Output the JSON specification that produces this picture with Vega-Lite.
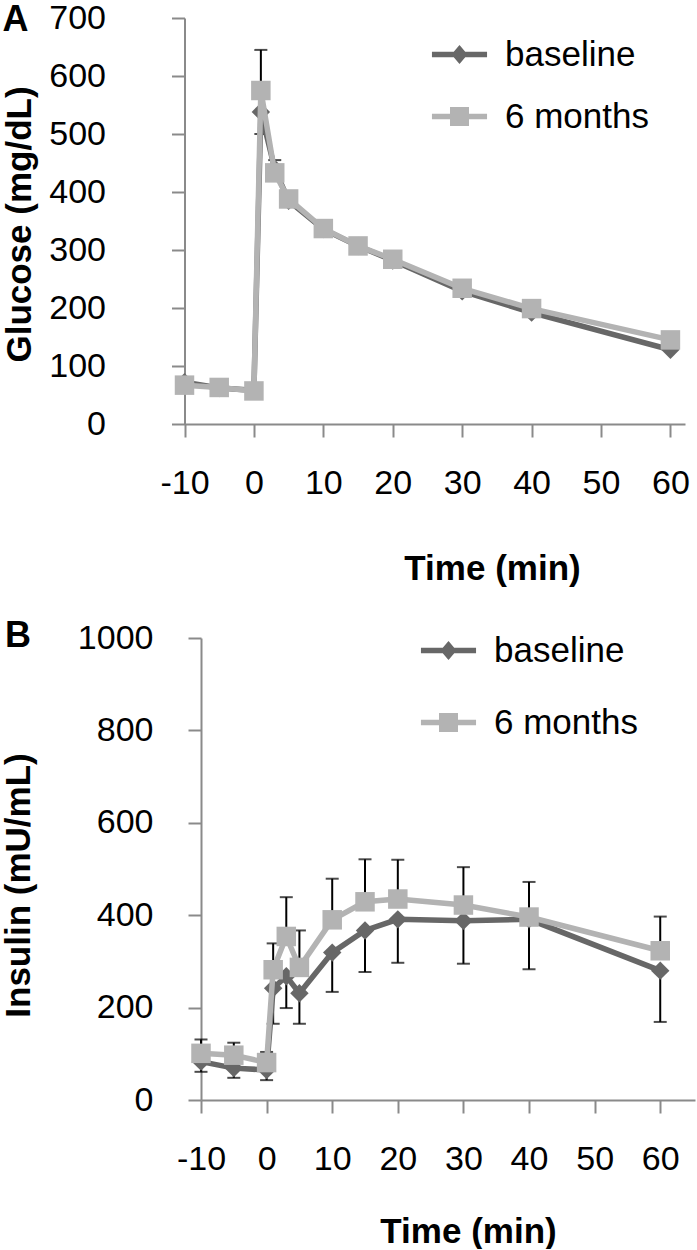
{
  "$schema": "https://vega.github.io/schema/vega-lite/v6.json",
  "background": "white",
  "padding": {"left": 0, "top": 1, "right": 0, "bottom": 0},
  "config": {
    "view": {"stroke": null},
    "font": "Liberation Sans",
    "axis": {
      "domainColor": "#8a8a8a", "domainWidth": 2, "tickColor": "#8a8a8a", "tickWidth": 2, "tickSize": 13,
      "grid": false, "labelFont": "Liberation Sans", "labelFontSize": 34, "labelColor": "black",
      "titleFont": "Liberation Sans", "titleFontSize": 35, "titleFontWeight": "bold", "titleColor": "black",
      "labelFlush": false, "labelOverlap": false, "labelBound": false, "labelExpr": "'' + datum.value"
    },
    "axisX": {"labelPadding": 29, "titleBaseline": "middle"},
    "axisY": {"labelPadding": 35, "titleBaseline": "middle"},
    "legend": {"labelFont": "Liberation Sans", "labelFontSize": 35, "labelColor": "black", "labelLimit": 0, "symbolSize": 361, "symbolStrokeWidth": 0, "labelOffset": 28, "padding": 0, "orient": "none", "title": null}
  },
  "datasets": {
    "glucose": [
      {"time": -10, "group": "baseline", "value": 72, "lo": null, "hi": null},
      {"time": -5, "group": "baseline", "value": 62, "lo": null, "hi": null},
      {"time": 0, "group": "baseline", "value": 58, "lo": null, "hi": null},
      {"time": 1, "group": "baseline", "value": 538, "lo": 500, "hi": 538},
      {"time": 3, "group": "baseline", "value": 440, "lo": null, "hi": null},
      {"time": 5, "group": "baseline", "value": 385, "lo": null, "hi": null},
      {"time": 10, "group": "baseline", "value": 336, "lo": null, "hi": null},
      {"time": 15, "group": "baseline", "value": 307, "lo": null, "hi": null},
      {"time": 20, "group": "baseline", "value": 282, "lo": null, "hi": null},
      {"time": 30, "group": "baseline", "value": 229, "lo": null, "hi": null},
      {"time": 40, "group": "baseline", "value": 192, "lo": null, "hi": null},
      {"time": 60, "group": "baseline", "value": 128, "lo": null, "hi": null},
      {"time": -10, "group": "6 months", "value": 67, "lo": null, "hi": null},
      {"time": -5, "group": "6 months", "value": 63, "lo": null, "hi": null},
      {"time": 0, "group": "6 months", "value": 57, "lo": null, "hi": null},
      {"time": 1, "group": "6 months", "value": 575, "lo": 575, "hi": 645},
      {"time": 3, "group": "6 months", "value": 433, "lo": 433, "hi": 455},
      {"time": 5, "group": "6 months", "value": 388, "lo": null, "hi": null},
      {"time": 10, "group": "6 months", "value": 337, "lo": null, "hi": null},
      {"time": 15, "group": "6 months", "value": 307, "lo": null, "hi": null},
      {"time": 20, "group": "6 months", "value": 284, "lo": null, "hi": null},
      {"time": 30, "group": "6 months", "value": 234, "lo": null, "hi": null},
      {"time": 40, "group": "6 months", "value": 199, "lo": null, "hi": null},
      {"time": 60, "group": "6 months", "value": 145, "lo": null, "hi": null}
    ],
    "insulin": [
      {"time": -10, "group": "baseline", "value": 83, "lo": 61, "hi": 83},
      {"time": -5, "group": "baseline", "value": 69, "lo": 48, "hi": 69},
      {"time": 0, "group": "baseline", "value": 65, "lo": 43, "hi": 65},
      {"time": 1, "group": "baseline", "value": 242, "lo": 165, "hi": 242},
      {"time": 3, "group": "baseline", "value": 268, "lo": 199, "hi": 268},
      {"time": 5, "group": "baseline", "value": 231, "lo": 165, "hi": 231},
      {"time": 10, "group": "baseline", "value": 319, "lo": 234, "hi": 319},
      {"time": 15, "group": "baseline", "value": 367, "lo": 277, "hi": 367},
      {"time": 20, "group": "baseline", "value": 391, "lo": 297, "hi": 391},
      {"time": 30, "group": "baseline", "value": 388, "lo": 295, "hi": 388},
      {"time": 40, "group": "baseline", "value": 391, "lo": 283, "hi": 391},
      {"time": 60, "group": "baseline", "value": 280, "lo": 169, "hi": 280},
      {"time": -10, "group": "6 months", "value": 101, "lo": 101, "hi": 131},
      {"time": -5, "group": "6 months", "value": 97, "lo": 97, "hi": 124},
      {"time": 0, "group": "6 months", "value": 81, "lo": 81, "hi": 104},
      {"time": 1, "group": "6 months", "value": 282, "lo": 282, "hi": 339},
      {"time": 3, "group": "6 months", "value": 354, "lo": 354, "hi": 439},
      {"time": 5, "group": "6 months", "value": 287, "lo": 287, "hi": 367},
      {"time": 10, "group": "6 months", "value": 390, "lo": 390, "hi": 479},
      {"time": 15, "group": "6 months", "value": 429, "lo": 429, "hi": 521},
      {"time": 20, "group": "6 months", "value": 435, "lo": 435, "hi": 520},
      {"time": 30, "group": "6 months", "value": 422, "lo": 422, "hi": 504},
      {"time": 40, "group": "6 months", "value": 396, "lo": 396, "hi": 472},
      {"time": 60, "group": "6 months", "value": 323, "lo": 323, "hi": 397}
    ]
  },
  "columns": 1,
  "align": "none",
  "spacing": 32,
  "resolve": {"scale": {"color": "independent", "shape": "independent"}, "legend": {"color": "independent", "shape": "independent"}},
  "concat": [
    {
      "width": 484, "height": 406,
      "data": {"name": "glucose"},
      "title": {"text": "A", "anchor": "start", "frame": "bounds", "fontSize": 36, "fontWeight": "bold", "font": "Liberation Sans", "color": "black", "baseline": "alphabetic", "offset": 0, "dy": 66, "dx": 0},
      "encoding": {
        "x": {"field": "time", "type": "quantitative", "title": "Time (min)", "scale": {"domain": [-10, 62.1], "range": [-16.5, 484], "nice": false, "zero": false},
              "axis": {"values": [-10, 0, 10, 20, 30, 40, 50, 60], "titleX": 291, "titleY": 144}},
        "y": {"field": "value", "type": "quantitative", "title": "Glucose (mg/dL)", "scale": {"domain": [0, 700], "nice": false},
              "axis": {"values": [0, 100, 200, 300, 400, 500, 600, 700], "offset": 16.5, "labelPadding": 66, "titleX": -165, "titleY": 206}}
      },
      "layer": [
        {"transform": [{"filter": "datum.hi != null"}],
         "mark": {"type": "errorbar", "ticks": {"size": 13, "thickness": 2, "color": "black"}, "rule": {"strokeWidth": 2, "color": "black"}, "color": "black"},
         "encoding": {"y": {"field": "lo", "type": "quantitative", "title": "Glucose (mg/dL)"}, "y2": {"field": "hi"}}},
        {"transform": [{"filter": "datum.group == 'baseline'"}], "mark": {"type": "line", "strokeWidth": 5.5, "color": "#676767"}, "encoding": {}},
        {"transform": [{"filter": "datum.group == 'baseline'"}], "mark": {"type": "point", "filled": true, "shape": "diamond", "size": 340, "color": "#676767", "opacity": 1}, "encoding": {}},
        {"transform": [{"filter": "datum.group == '6 months'"}], "mark": {"type": "line", "strokeWidth": 5.5, "color": "#b3b3b3"}, "encoding": {}},
        {"transform": [{"filter": "datum.group == '6 months'"}], "mark": {"type": "point", "filled": true, "shape": "square", "size": 380, "color": "#b3b3b3", "opacity": 1}, "encoding": {}},
        {"transform": [{"filter": "datum.time > 1000"}],
         "mark": {"type": "point", "filled": true, "opacity": 1},
         "encoding": {
           "color": {"field": "group", "type": "nominal", "scale": {"domain": ["baseline", "6 months"], "range": ["#676767", "#b3b3b3"]},
                     "legend": {"legendX": 241, "legendY": 19, "rowPadding": 26}},
           "shape": {"field": "group", "type": "nominal", "scale": {"domain": ["baseline", "6 months"], "range": ["M-2.9,-0.3L2.9,-0.3L2.9,0.3L-2.9,0.3Z M0,-1L0.85,0L0,1L-0.85,0Z", "M-2.9,-0.3L2.9,-0.3L2.9,0.3L-2.9,0.3Z M-1,-1L1,-1L1,1L-1,1Z"]},
                     "legend": {"legendX": 241, "legendY": 19, "rowPadding": 26}}
         }}
      ]
    },
    {
      "width": 494, "height": 462,
      "data": {"name": "insulin"},
      "title": {"text": "B", "anchor": "start", "frame": "bounds", "fontSize": 36, "fontWeight": "bold", "font": "Liberation Sans", "color": "black", "baseline": "alphabetic", "offset": 0, "dy": 62, "dx": 4},
      "encoding": {
        "x": {"field": "time", "type": "quantitative", "title": "Time (min)", "scale": {"domain": [-10, 65.3], "nice": false, "zero": false},
              "axis": {"values": [-10, 0, 10, 20, 30, 40, 50, 60], "titleX": 267, "titleY": 131}},
        "y": {"field": "value", "type": "quantitative", "title": "Insulin (mU/mL)", "scale": {"domain": [0, 1000], "nice": false},
              "axis": {"values": [0, 200, 400, 600, 800, 1000], "titleX": -183, "titleY": 247}}
      },
      "layer": [
        {"mark": {"type": "errorbar", "ticks": {"size": 13, "thickness": 2, "color": "black"}, "rule": {"strokeWidth": 2, "color": "black"}, "color": "black"},
         "encoding": {"y": {"field": "lo", "type": "quantitative", "title": "Insulin (mU/mL)"}, "y2": {"field": "hi"}}},
        {"transform": [{"filter": "datum.group == 'baseline'"}], "mark": {"type": "line", "strokeWidth": 5.5, "color": "#676767"}, "encoding": {}},
        {"transform": [{"filter": "datum.group == 'baseline'"}], "mark": {"type": "point", "filled": true, "shape": "diamond", "size": 340, "color": "#676767", "opacity": 1}, "encoding": {}},
        {"transform": [{"filter": "datum.group == '6 months'"}], "mark": {"type": "line", "strokeWidth": 5.5, "color": "#b3b3b3"}, "encoding": {}},
        {"transform": [{"filter": "datum.group == '6 months'"}], "mark": {"type": "point", "filled": true, "shape": "square", "size": 380, "color": "#b3b3b3", "opacity": 1}, "encoding": {}},
        {"transform": [{"filter": "datum.time > 1000"}],
         "mark": {"type": "point", "filled": true, "opacity": 1},
         "encoding": {
           "color": {"field": "group", "type": "nominal", "scale": {"domain": ["baseline", "6 months"], "range": ["#676767", "#b3b3b3"]},
                     "legend": {"legendX": 230, "legendY": -5, "rowPadding": 36}},
           "shape": {"field": "group", "type": "nominal", "scale": {"domain": ["baseline", "6 months"], "range": ["M-2.9,-0.3L2.9,-0.3L2.9,0.3L-2.9,0.3Z M0,-1L0.85,0L0,1L-0.85,0Z", "M-2.9,-0.3L2.9,-0.3L2.9,0.3L-2.9,0.3Z M-1,-1L1,-1L1,1L-1,1Z"]},
                     "legend": {"legendX": 230, "legendY": -5, "rowPadding": 36}}
         }}
      ]
    }
  ]
}
